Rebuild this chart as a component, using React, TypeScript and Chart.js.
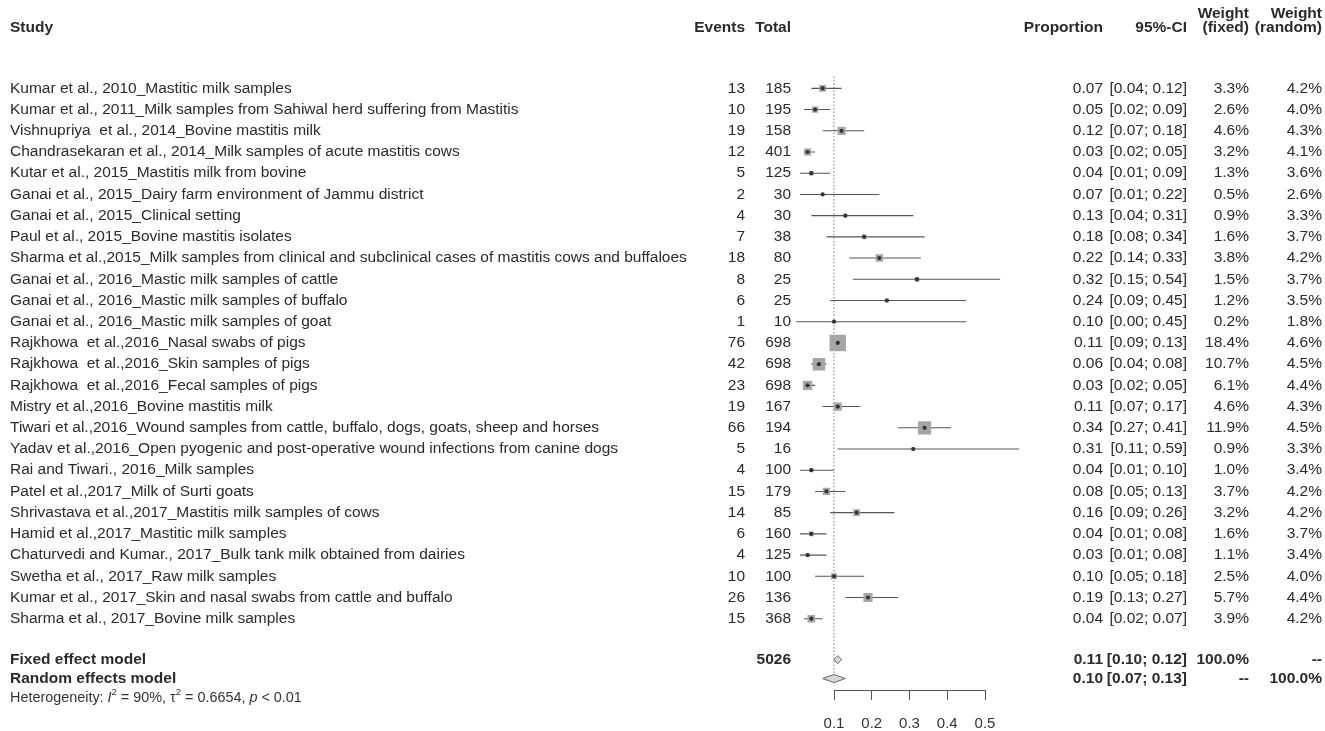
import React, { useEffect, useRef } from "react";
import { Chart, registerables } from "chart.js";

Chart.register(...registerables);

const studies = [
  "Kumar et al., 2010_Mastitic milk samples",
  "Kumar et al., 2011_Milk samples from Sahiwal herd suffering from Mastitis",
  "Vishnupriya  et al., 2014_Bovine mastitis milk",
  "Chandrasekaran et al., 2014_Milk samples of acute mastitis cows",
  "Kutar et al., 2015_Mastitis milk from bovine",
  "Ganai et al., 2015_Dairy farm environment of Jammu district",
  "Ganai et al., 2015_Clinical setting",
  "Paul et al., 2015_Bovine mastitis isolates",
  "Sharma et al.,2015_Milk samples from clinical and subclinical cases of mastitis cows and buffaloes",
  "Ganai et al., 2016_Mastic milk samples of cattle",
  "Ganai et al., 2016_Mastic milk samples of buffalo",
  "Ganai et al., 2016_Mastic milk samples of goat",
  "Rajkhowa  et al.,2016_Nasal swabs of pigs",
  "Rajkhowa  et al.,2016_Skin samples of pigs",
  "Rajkhowa  et al.,2016_Fecal samples of pigs",
  "Mistry et al.,2016_Bovine mastitis milk",
  "Tiwari et al.,2016_Wound samples from cattle, buffalo, dogs, goats, sheep and horses",
  "Yadav et al.,2016_Open pyogenic and post-operative wound infections from canine dogs",
  "Rai and Tiwari., 2016_Milk samples",
  "Patel et al.,2017_Milk of Surti goats",
  "Shrivastava et al.,2017_Mastitis milk samples of cows",
  "Hamid et al.,2017_Mastitic milk samples",
  "Chaturvedi and Kumar., 2017_Bulk tank milk obtained from dairies",
  "Swetha et al., 2017_Raw milk samples",
  "Kumar et al., 2017_Skin and nasal swabs from cattle and buffalo",
  "Sharma et al., 2017_Bovine milk samples",
];
const events = [13, 10, 19, 12, 5, 2, 4, 7, 18, 8, 6, 1, 76, 42, 23, 19, 66, 5, 4, 15, 14, 6, 4, 10, 26, 15];
const totals = [185, 195, 158, 401, 125, 30, 30, 38, 80, 25, 25, 10, 698, 698, 698, 167, 194, 16, 100, 179, 85, 160, 125, 100, 136, 368];
const proportions = [0.07, 0.05, 0.12, 0.03, 0.04, 0.07, 0.13, 0.18, 0.22, 0.32, 0.24, 0.10, 0.11, 0.06, 0.03, 0.11, 0.34, 0.31, 0.04, 0.08, 0.16, 0.04, 0.03, 0.10, 0.19, 0.04];
const lowers = [0.04, 0.02, 0.07, 0.02, 0.01, 0.01, 0.04, 0.08, 0.14, 0.15, 0.09, 0.00, 0.09, 0.04, 0.02, 0.07, 0.27, 0.11, 0.01, 0.05, 0.09, 0.01, 0.01, 0.05, 0.13, 0.02];
const uppers = [0.12, 0.09, 0.18, 0.05, 0.09, 0.22, 0.31, 0.34, 0.33, 0.54, 0.45, 0.45, 0.13, 0.08, 0.05, 0.17, 0.41, 0.59, 0.10, 0.13, 0.26, 0.08, 0.08, 0.18, 0.27, 0.07];
const weightFixed = [3.3, 2.6, 4.6, 3.2, 1.3, 0.5, 0.9, 1.6, 3.8, 1.5, 1.2, 0.2, 18.4, 10.7, 6.1, 4.6, 11.9, 0.9, 1.0, 3.7, 3.2, 1.6, 1.1, 2.5, 5.7, 3.9];
const weightRandom = [4.2, 4.0, 4.3, 4.1, 3.6, 2.6, 3.3, 3.7, 4.2, 3.7, 3.5, 1.8, 4.6, 4.5, 4.4, 4.3, 4.5, 3.3, 3.4, 4.2, 4.2, 3.7, 3.4, 4.0, 4.4, 4.2];
const fixedModel = [0.11, 0.10, 0.12]; // estimate, lower, upper
const randomModel = [0.10, 0.07, 0.13];
const totalN = 5026;
const xTicks = [0.1, 0.2, 0.3, 0.4, 0.5];
const heterogeneity = { i2: "90%", tau2: "0.6654", p: "< 0.01" };

// layout constants (rows in y-scale units)
const FIXED_ROW = 26.93;
const RANDOM_ROW = 27.82;
const HET_ROW = 28.76;
const DIAMOND_H = 0.19;

const FONT = '"Liberation Sans", Arial, Helvetica, sans-serif';
const FS = 15.5;

export default function App() {
  const ref = useRef<HTMLCanvasElement | null>(null);

  useEffect(() => {
    const canvas = ref.current;
    if (!canvas) return;

    const ciSets = studies.map((_, i) => ({
      type: "scatter" as const,
      data: [
        { x: lowers[i], y: i },
        { x: uppers[i], y: i },
      ],
      showLine: true,
      borderColor: "#555",
      borderWidth: 1.1,
      pointRadius: 0,
      order: 5,
    }));

    const squareSet = {
      type: "scatter" as const,
      data: proportions.map((p, i) => ({ x: p, y: i })),
      pointStyle: "rect",
      pointRadius: weightFixed.map((w) => 11.6 * Math.sqrt(w / 18.4)),
      backgroundColor: "#a6a6a6",
      borderColor: "#a6a6a6",
      borderWidth: 0,
      order: 3,
    };

    const centerSet = {
      type: "scatter" as const,
      data: proportions.map((p, i) => ({ x: p, y: i })),
      pointStyle: "circle",
      pointRadius: 2.1,
      backgroundColor: "#333",
      borderColor: "#333",
      borderWidth: 0,
      order: 1,
    };

    const refLine = {
      type: "scatter" as const,
      data: [
        { x: randomModel[0], y: -0.56 },
        { x: randomModel[0], y: RANDOM_ROW + 0.2 },
      ],
      showLine: true,
      borderColor: "#777",
      borderWidth: 1,
      borderDash: [1.5, 2],
      pointRadius: 0,
      order: 6,
    };

    const diamond = (m: number[], row: number) => ({
      type: "scatter" as const,
      data: [
        { x: m[1], y: row },
        { x: m[0], y: row - DIAMOND_H },
        { x: m[2], y: row },
        { x: m[0], y: row + DIAMOND_H },
        { x: m[1], y: row },
      ],
      showLine: true,
      fill: "shape" as any,
      backgroundColor: "#d9d9d9",
      borderColor: "#666",
      borderWidth: 1,
      pointRadius: 0,
      tension: 0,
      order: 2,
    });

    const textPlugin = {
      id: "forestText",
      afterDraw(chart: any) {
        const ctx = chart.ctx as CanvasRenderingContext2D;
        const ys = chart.scales.y;
        const xs = chart.scales.x;
        ctx.save();
        // axis line spanning only the tick range
        ctx.strokeStyle = "#555";
        ctx.lineWidth = 1;
        ctx.beginPath();
        const by = Math.round(chart.chartArea.bottom) + 0.5;
        ctx.moveTo(xs.getPixelForValue(xTicks[0]), by);
        ctx.lineTo(xs.getPixelForValue(xTicks[xTicks.length - 1]), by);
        ctx.stroke();

        ctx.textBaseline = "middle";
        const put = (t: string, x: number, y: number, align: CanvasTextAlign, bold = false, size = FS, color = "#2b2b2b") => {
          ctx.font = `${bold ? "bold " : ""}${size}px ${FONT}`;
          ctx.fillStyle = color;
          ctx.textAlign = align;
          ctx.fillText(t, x, y);
        };
        const col = { study: 10, events: 745, total: 791, prop: 1103, ci: 1187, wf: 1249, wr: 1322 };
        // headers
        const h1 = 14, h2 = 28;
        put("Study", col.study, h2, "left", true);
        put("Events", col.events, h2, "right", true);
        put("Total", col.total, h2, "right", true);
        put("Proportion", col.prop, h2, "right", true);
        put("95%-CI", col.ci, h2, "right", true);
        put("Weight", col.wf, h1, "right", true);
        put("(fixed)", col.wf, h2, "right", true);
        put("Weight", col.wr, h1, "right", true);
        put("(random)", col.wr, h2, "right", true);

        const ci = (lo: number, hi: number) => `[${lo.toFixed(2)}; ${hi.toFixed(2)}]`;
        studies.forEach((s, i) => {
          const y = ys.getPixelForValue(i);
          put(s, col.study, y, "left");
          put(String(events[i]), col.events, y, "right");
          put(String(totals[i]), col.total, y, "right");
          put(proportions[i].toFixed(2), col.prop, y, "right");
          put(ci(lowers[i], uppers[i]), col.ci, y, "right");
          put(weightFixed[i].toFixed(1) + "%", col.wf, y, "right");
          put(weightRandom[i].toFixed(1) + "%", col.wr, y, "right");
        });

        const yf = ys.getPixelForValue(FIXED_ROW);
        put("Fixed effect model", col.study, yf, "left", true);
        put(String(totalN), col.total, yf, "right", true);
        put(fixedModel[0].toFixed(2), col.prop, yf, "right", true);
        put(ci(fixedModel[1], fixedModel[2]), col.ci, yf, "right", true);
        put("100.0%", col.wf, yf, "right", true);
        put("--", col.wr, yf, "right", true);

        const yr = ys.getPixelForValue(RANDOM_ROW);
        put("Random effects model", col.study, yr, "left", true);
        put(randomModel[0].toFixed(2), col.prop, yr, "right", true);
        put(ci(randomModel[1], randomModel[2]), col.ci, yr, "right", true);
        put("--", col.wf, yr, "right", true);
        put("100.0%", col.wr, yr, "right", true);

        // heterogeneity line
        const yh = ys.getPixelForValue(HET_ROW);
        let x = col.study;
        const seg = (t: string, style: string, size: number, dy = 0) => {
          ctx.font = `${style}${size}px ${FONT}`;
          ctx.fillStyle = "#333";
          ctx.textAlign = "left";
          ctx.fillText(t, x, yh + dy);
          x += ctx.measureText(t).width;
        };
        const fs = 14.4;
        seg("Heterogeneity: ", "", fs);
        seg("I", "italic ", fs);
        seg("2", "", 9.5, -6);
        seg(` = ${heterogeneity.i2}, \u03C4`, "", fs);
        seg("2", "", 9.5, -6);
        seg(` = ${heterogeneity.tau2}, `, "", fs);
        seg("p", "italic ", fs);
        seg(` ${heterogeneity.p}`, "", fs);
        ctx.restore();
      },
    };

    // x scale: 0.1 -> 834px, 0.1 units = 37.75px
    const xMin = -0.02, xMax = 0.62;
    const ppu = 377.5;
    const padLeft = 834 - (0.1 - xMin) * ppu;
    const padRight = 1325 - (834 + (xMax - 0.1) * ppu);

    const chart = new Chart(canvas, {
      type: "scatter",
      data: {
        datasets: [...ciSets, squareSet, centerSet, refLine, diamond(fixedModel, FIXED_ROW), diamond(randomModel, RANDOM_ROW)] as any,
      },
      options: {
        animation: false,
        responsive: false,
        maintainAspectRatio: false,
        layout: { padding: { left: padLeft, right: padRight, top: 2, bottom: 0 } },
        plugins: { legend: { display: false }, tooltip: { enabled: false } },
        scales: {
          x: {
            type: "linear",
            min: xMin,
            max: xMax,
            afterBuildTicks: (axis: any) => {
              axis.ticks = xTicks.map((v) => ({ value: v }));
            },
            afterFit: (axis: any) => {
              axis.height = 41;
            },
            ticks: {
              callback: (v: any) => Number(v).toFixed(1),
              font: { family: FONT, size: 15 },
              color: "#333",
              padding: 15,
              maxRotation: 0,
              autoSkip: false,
            },
            grid: { drawOnChartArea: false, drawTicks: true, tickLength: 10, color: "#555", lineWidth: 1 },
            border: { display: false },
          },
          y: {
            type: "linear",
            display: false,
            reverse: true,
            min: -3.618,
            max: 28.36,
          },
        },
      },
      plugins: [textPlugin],
    } as any);

    return () => chart.destroy();
  }, []);

  return (
    <div style={{ position: "fixed", left: 0, top: 0, width: 1325, height: 731, background: "#fff" }}>
      <canvas ref={ref} width={1325} height={731} style={{ width: 1325, height: 731, display: "block" }} />
    </div>
  );
}
